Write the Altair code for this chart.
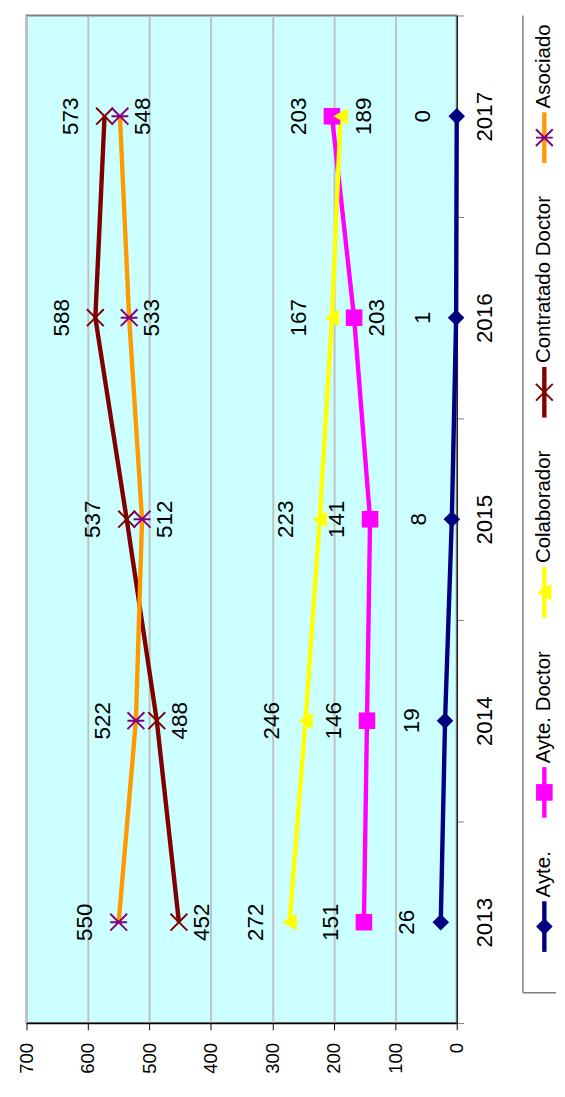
import altair as alt
import pandas as pd

# ---------------- data ----------------
years = ["2013", "2014", "2015", "2016", "2017"]
series_names = ["Ayte.", "Ayte. Doctor", "Colaborador", "Contratado Doctor", "Asociado"]

ayte = [26, 19, 8, 1, 0]
ayte_doctor = [151, 146, 141, 167, 203]
colaborador = [272, 246, 223, 203, 189]
contratado_doctor = [452, 488, 537, 588, 573]
asociado = [550, 522, 512, 533, 548]

# data labels as printed on the chart
ayte_text = ["26", "19", "8", "1", "0"]
ayte_doctor_text = ["151", "146", "141", "203", "203"]
colaborador_text = ["272", "246", "223", "167", "189"]
contratado_doctor_text = ["452", "488", "537", "588", "573"]
asociado_text = ["550", "522", "512", "533", "548"]

value_ticks = [0, 100, 200, 300, 400, 500, 600, 700]

# ---------------- styles ----------------
FONT = "Liberation Sans"
line_colors = ["#000080", "#FF00FF", "#FFFF00", "#800000", "#FF9900"]
marker_colors = ["#000080", "#FF00FF", "#FFFF00", "#800000", "#800080"]
marker_shapes = ["diamond", "square", "triangle-left",
                 "M-1,-1L1,1M-1,1L1,-1",
                 "M-1,-1L1,1M-1,1L1,-1M-1,0L1,0"]
# label side relative to the point: L = left ("above"), R = right ("below")
label_sides = [
    ["L", "L", "L", "L", "L"],
    ["L", "L", "L", "R", "L"],
    ["L", "L", "L", "L", "R"],
    ["R", "R", "L", "L", "L"],
    ["L", "L", "R", "R", "R"],
]

values = [ayte, ayte_doctor, colaborador, contratado_doctor, asociado]
texts = [ayte_text, ayte_doctor_text, colaborador_text, contratado_doctor_text, asociado_text]

rows = []
for si, name in enumerate(series_names):
    for yi, yr in enumerate(years):
        rows.append({"series": name, "year": yr, "value": values[si][yi],
                     "label": texts[si][yi], "side": label_sides[si][yi]})
df = pd.DataFrame(rows)

PLOT_W, PLOT_H = 442, 1035

x_scale = alt.Scale(domain=[0, 700], reverse=True, nice=False, zero=True)
y_scale = alt.Scale(type="band", domain=years[::-1], paddingInner=0, paddingOuter=0)

x_axis = alt.Axis(values=value_ticks, labelAngle=270, labelAlign="right", labelBaseline="middle",
                  labelFontSize=19, labelPadding=13, tickSize=7, tickColor="black",
                  domainColor="black", domainWidth=1.5, grid=True, gridColor="#C0C0C0",
                  gridWidth=2, title=None, labelColor="black", labelFont=FONT,
                  labelFlush=False, labelOverlap=False)
y_axis = alt.Axis(orient="right", labelAngle=270, labelAlign="center", labelBaseline="top",
                  labelFontSize=23, labelPadding=11, tickBand="extent", tickSize=7,
                  tickColor="#808080", domainColor="black", domainWidth=1.2, grid=False, title=None,
                  labelFont=FONT, labelColor="black")

X = alt.X("value:Q", scale=x_scale, axis=x_axis)
Y = alt.Y("year:O", scale=y_scale, axis=y_axis, bandPosition=0.5)

line_scale = alt.Scale(domain=series_names, range=line_colors)
marker_scale = alt.Scale(domain=series_names, range=marker_colors)
shape_scale = alt.Scale(domain=series_names, range=marker_shapes)

base = alt.Chart(df)

lines = base.mark_line(strokeWidth=4.5).encode(
    x=X, y=Y,
    color=alt.Color("series:N", scale=line_scale, legend=None),
    order=alt.Order("year:O"),
)

filled_pts = alt.Chart(df[df["series"].isin(series_names[:3])]).mark_point(
    filled=True, size=290, opacity=1).encode(
    x=X, y=Y,
    shape=alt.Shape("series:N", scale=shape_scale, legend=None),
    fill=alt.Fill("series:N", scale=marker_scale, legend=None),
)

stroked_pts = alt.Chart(df[df["series"].isin(series_names[3:])]).mark_point(
    filled=False, size=300, opacity=1, strokeWidth=2).encode(
    x=X, y=Y,
    shape=alt.Shape("series:N", scale=shape_scale, legend=None),
    stroke=alt.Stroke("series:N", scale=marker_scale, legend=None),
)

labels_left = alt.Chart(df[df["side"] == "L"]).mark_text(
    angle=270, dy=-34, fontSize=23, font=FONT, align="center", baseline="middle",
    color="black").encode(x=X, y=Y, text="label:N")
labels_right = alt.Chart(df[df["side"] == "R"]).mark_text(
    angle=270, dy=24, fontSize=23, font=FONT, align="center", baseline="middle",
    color="black").encode(x=X, y=Y, text="label:N")

main = alt.layer(lines, filled_pts, stroked_pts, labels_left, labels_right).properties(
    width=PLOT_W, height=PLOT_H,
    view=alt.ViewBackground(fill="#CCFFFF", stroke="#808080", strokeWidth=2),
)

# ---------------- legend (rotated, built from marks) ----------------
LEG_FS = 21
LEG_H = 1004
LEG_W = 34
char_w = {"A": .667, "y": .5, "t": .278, "e": .556, ".": .278, " ": .278, "D": .722,
          "o": .556, "c": .5, "r": .333, "C": .722, "l": .222, "a": .556, "b": .556,
          "d": .556, "n": .556, "s": .5, "i": .222}


def text_w(s):
    return sum(char_w.get(c, .556) for c in s) * LEG_FS


SYM_LEN, GAP_TXT, GAP_ITEM, BOTTOM = 52, 4, 34, 42
leg_rows = []
cursor = BOTTOM
for name in series_names:
    l0 = cursor
    l1 = cursor + SYM_LEN
    t0 = l1 + GAP_TXT
    leg_rows.append({"series": name, "l0": l0, "l1": l1, "mid": (l0 + l1) / 2,
                     "t0": t0, "xpos": 22 / LEG_W})
    cursor = t0 + text_w(name) + GAP_ITEM
leg_df = pd.DataFrame(leg_rows)
frame_df = pd.DataFrame({"x0": [0.0], "y0": [0.0], "x1": [1.0], "y1": [float(LEG_H)]})

leg_x = alt.Scale(domain=[0, 1], nice=False, zero=False)
leg_y = alt.Scale(domain=[0, LEG_H], nice=False, zero=False)
LX = alt.X("xpos:Q", scale=leg_x, axis=None)

frame_left = alt.Chart(frame_df).mark_rule(color="#808080", strokeWidth=1.5).encode(
    x=alt.X("x0:Q", scale=leg_x, axis=None),
    y=alt.Y("y0:Q", scale=leg_y, axis=None), y2="y1:Q")
frame_bottom = alt.Chart(frame_df).mark_rule(color="#808080", strokeWidth=1.5).encode(
    x=alt.X("x0:Q", scale=leg_x, axis=None), x2="x1:Q",
    y=alt.Y("y0:Q", scale=leg_y, axis=None))

leg_lines = alt.Chart(leg_df).mark_rule(strokeWidth=4.5).encode(
    x=LX, y=alt.Y("l0:Q", scale=leg_y, axis=None), y2="l1:Q",
    color=alt.Color("series:N", scale=line_scale, legend=None))
leg_filled = alt.Chart(leg_df[leg_df["series"].isin(series_names[:3])]).mark_point(
    filled=True, size=290, opacity=1).encode(
    x=LX, y=alt.Y("mid:Q", scale=leg_y, axis=None),
    shape=alt.Shape("series:N", scale=shape_scale, legend=None),
    fill=alt.Fill("series:N", scale=marker_scale, legend=None))
leg_stroked = alt.Chart(leg_df[leg_df["series"].isin(series_names[3:])]).mark_point(
    filled=False, size=300, opacity=1, strokeWidth=2).encode(
    x=LX, y=alt.Y("mid:Q", scale=leg_y, axis=None),
    shape=alt.Shape("series:N", scale=shape_scale, legend=None),
    stroke=alt.Stroke("series:N", scale=marker_scale, legend=None))
leg_text = alt.Chart(leg_df).mark_text(
    angle=270, align="left", baseline="middle", fontSize=LEG_FS, font=FONT, color="black").encode(
    x=LX, y=alt.Y("t0:Q", scale=leg_y, axis=None), text="series:N")

legend = alt.layer(frame_left, frame_bottom, leg_lines, leg_filled, leg_stroked, leg_text).properties(
    width=LEG_W, height=LEG_H,
    view=alt.ViewBackground(fill="white", stroke=None),
)

chart = alt.hconcat(main, legend, spacing=68, bounds="flush").properties(
    padding={"top": -9, "left": 9, "right": 0, "bottom": -6},
).configure(font=FONT)

chart.save("out.html", embed_options={"renderer": "svg", "actions": False})
